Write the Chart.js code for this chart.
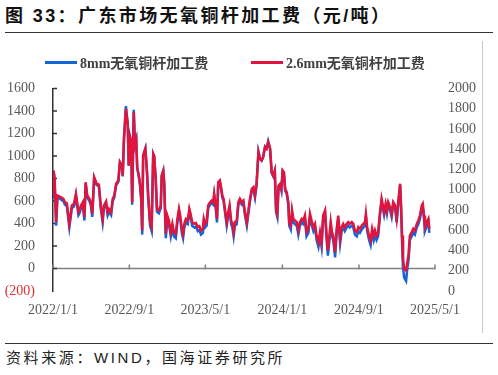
<!DOCTYPE html>
<html lang="zh">
<head>
<meta charset="utf-8">
<title>广东市场无氧铜杆加工费</title>
<script src="https://cdn.jsdelivr.net/npm/chart.js@4.4.1/dist/chart.umd.min.js"></script>
<style>
  html, body { margin: 0; padding: 0; background: #fff; }
  body { width: 498px; height: 375px; position: relative; overflow: hidden;
         font-family: "Liberation Sans", "Noto Sans CJK SC", sans-serif; }
  .title { position: absolute; left: 5px; top: 5px; line-height: 22px; font-size: 18px;
           font-weight: bold; letter-spacing: 2.4px; color: #111; white-space: nowrap; }
  .rule { position: absolute; left: 5px; width: 488px; height: 0; border-top: 1.5px solid #333; }
  .frame { position: absolute; left: 482px; top: 41px; width: 0; height: 292px; border-left: 1px solid #c8c8c8; }
  .legend span { position: absolute; top: 54px; height: 16px; line-height: 16px; display: flex; align-items: center;
                 font: bold 14px "Liberation Serif", "Noto Sans CJK SC", serif; color: #404040; white-space: nowrap; }
  .legend i { display: inline-block; width: 32px; height: 3px; margin-right: 3px; }
  #wrap { position: absolute; left: 0; top: 62px; width: 482px; height: 273px; }
  .source { position: absolute; left: 6px; top: 348px; line-height: 20px; font-size: 15px;
            letter-spacing: 2.6px; color: #222; white-space: nowrap; }
</style>
</head>
<body>
<div class="title">图 33：广东市场无氧铜杆加工费（元/吨）</div>
<div class="rule" style="top:32px"></div>
<div class="frame"></div>
<div id="wrap"><canvas id="chart"></canvas></div>
<div class="legend">
  <span style="left:45px"><i style="background:#1565d8"></i>8mm无氧铜杆加工费</span>
  <span style="left:251px"><i style="background:#e0143c"></i>2.6mm无氧铜杆加工费</span>
</div>
<div class="rule" style="top:343px"></div>
<div class="source">资料来源：WIND，国海证券研究所</div>

<script>
// days counted from 2022/1/1
const dayOffsets = [
  0, 2, 5, 10, 14, 22, 33, 38, 44, 52, 60, 67,
  73, 81, 84, 89, 95, 100, 104, 109, 116, 120, 125, 131,
  139, 146, 152, 158, 162, 169, 174, 178, 185, 190, 195, 201,
  208, 213, 219, 222, 226, 232, 238, 241, 245, 249, 252, 257,
  261, 265, 268, 273, 277, 281, 284, 287, 294, 299, 303, 309,
  314, 319, 322, 327, 331, 337, 343, 346, 351, 354, 359, 364,
  369, 375, 380, 385, 391, 396, 401, 405, 410, 414, 418, 423,
  429, 434, 438, 443, 450, 455, 461, 466, 471, 477, 480, 484,
  489, 494, 500, 505, 510, 513, 518, 522, 526, 531, 535, 539,
  543, 548, 553, 558, 562, 567, 571, 575, 579, 585, 590, 595,
  601, 606, 611, 617, 622, 627, 633, 638, 643, 648, 654, 659,
  664, 669, 675, 680, 685, 691, 696, 701, 706, 710, 714, 718,
  723, 727, 731, 735, 739, 744, 749, 752, 757, 761, 765, 770,
  776, 781, 786, 792, 797, 802, 807, 813, 818, 823, 829, 834,
  839, 845, 850, 855, 860, 866, 871, 875, 880, 884, 888, 892,
  898, 903, 908, 914, 919, 924, 929, 935, 940, 945, 951, 956,
  961, 967, 972, 977, 983, 988, 993, 996, 1000, 1006, 1011, 1016,
  1021, 1025, 1030, 1035, 1041, 1046, 1051, 1054, 1059, 1063, 1067, 1073,
  1078, 1083, 1089, 1094, 1099, 1105, 1108, 1111, 1114, 1118, 1124, 1128,
  1132, 1136, 1142, 1147, 1152, 1158, 1163, 1168, 1174, 1177, 1181, 1184,
  1190, 1195, 1198
];

// 8mm, left axis
const fee8mm = [
  630, 864, 789, 380, 630, 620, 598, 567, 556, 364, 535, 552,
  646, 474, 489, 535, 567, 426, 754, 630, 598, 567, 458, 801,
  740, 731, 535, 410, 535, 573, 474, 504, 474, 598, 630, 740,
  770, 942, 912, 818, 1162, 1443, 1286, 912, 1177, 1130, 567, 1411,
  1098, 1145, 896, 818, 740, 598, 301, 1004, 1067, 864, 630, 380,
  332, 1020, 1000, 785, 504, 489, 535, 818, 864, 754, 269, 441,
  395, 286, 364, 286, 269, 410, 504, 441, 317, 269, 364, 410,
  395, 504, 458, 380, 364, 372, 332, 341, 301, 317, 410, 364,
  380, 535, 567, 582, 567, 646, 535, 410, 754, 770, 707, 630,
  598, 489, 380, 474, 535, 395, 364, 286, 380, 395, 567, 598,
  567, 582, 474, 380, 489, 598, 692, 707, 630, 740, 1036, 973,
  958, 990, 1083, 1067, 1130, 1067, 848, 818, 864, 504, 458, 724,
  740, 692, 864, 848, 692, 661, 567, 380, 347, 489, 410, 395,
  380, 301, 380, 410, 395, 441, 286, 317, 458, 395, 332, 364,
  253, 192, 286, 192, 441, 489, 253, 114, 253, 380, 286, 253,
  98, 317, 441, 223, 332, 364, 332, 364, 380, 364, 380, 364,
  301, 286, 332, 317, 347, 364, 380, 458, 332, 253, 208, 317,
  253, 301, 253, 286, 474, 598, 519, 474, 552, 489, 567, 519,
  458, 567, 535, 410, 567, 740, 535, 253, 10, -80, -110, 3,
  81, 253, 286, 317, 301, 364, 395, 441, 535, 552, 441, 332,
  380, 410, 317
];

// 2.6mm, right axis
const fee26mm = [
  944, 1190, 1111, 680, 943, 933, 910, 877, 866, 663, 844, 861,
  960, 779, 795, 844, 877, 729, 1074, 943, 910, 877, 762, 1124,
  1059, 1050, 844, 712, 844, 884, 779, 811, 779, 910, 943, 1059,
  1091, 1272, 1240, 1141, 1503, 1799, 1634, 1240, 1519, 1470, 877, 1766,
  1436, 1486, 1223, 1141, 1059, 910, 597, 1337, 1404, 1190, 943, 680,
  630, 1354, 1333, 1107, 811, 795, 844, 1141, 1190, 1074, 564, 745,
  696, 581, 663, 581, 564, 712, 811, 745, 614, 564, 663, 712,
  696, 811, 762, 680, 663, 672, 630, 639, 597, 614, 712, 663,
  680, 844, 877, 893, 877, 960, 844, 712, 1074, 1091, 1025, 943,
  910, 795, 680, 779, 844, 696, 663, 581, 680, 696, 877, 910,
  877, 893, 779, 680, 795, 910, 1009, 1025, 943, 1059, 1371, 1305,
  1289, 1322, 1420, 1404, 1470, 1404, 1173, 1141, 1190, 811, 762, 1042,
  1059, 1009, 1190, 1173, 1009, 976, 877, 680, 646, 795, 712, 696,
  680, 597, 680, 712, 696, 745, 581, 614, 762, 696, 630, 663,
  547, 482, 581, 482, 745, 795, 547, 400, 547, 680, 581, 547,
  383, 614, 745, 515, 630, 663, 630, 663, 680, 663, 680, 663,
  597, 581, 630, 614, 646, 663, 680, 762, 630, 547, 499, 614,
  547, 597, 547, 581, 779, 910, 827, 779, 861, 795, 877, 827,
  762, 877, 844, 712, 877, 1059, 844, 547, 317, 219, 202, 284,
  366, 547, 581, 614, 597, 663, 696, 745, 844, 861, 745, 630,
  680, 712, 614
];

const xTickDays = [0, 243, 485, 730, 974, 1216];
const xTickLabels = ['2022/1/1', '2022/9/1', '2023/5/1', '2024/1/1', '2024/9/1', '2025/5/1'];

const tickFont = { family: '"Liberation Serif", "Times New Roman", serif', size: 14 };
const tickColor = '#595959';

// zero line, small date marks and inward ticks on the left axis
const axisMarks = {
  id: 'axisMarks',
  beforeDatasetsDraw(chart) {
    const { ctx, chartArea, scales } = chart;
    const x = scales.x, y = scales.y;
    const zeroY = y.getPixelForValue(0);
    ctx.save();
    ctx.lineWidth = 1.5;
    ctx.strokeStyle = '#808080';
    ctx.beginPath();
    ctx.moveTo(chartArea.left, zeroY);
    ctx.lineTo(chartArea.right, zeroY);
    xTickDays.forEach(d => {
      const px = x.getPixelForValue(d);
      ctx.moveTo(px, zeroY - 4);
      ctx.lineTo(px, zeroY + 1);
    });
    ctx.stroke();

    ctx.strokeStyle = '#333';
    ctx.beginPath();
    y.ticks.forEach(t => {
      if (t.value <= y.min) return;
      const py = y.getPixelForValue(t.value);
      ctx.moveTo(chartArea.left, py);
      ctx.lineTo(chartArea.left + 4, py);
    });
    ctx.stroke();
    ctx.restore();
  }
};

const toPoints = values => dayOffsets.map((d, i) => ({ x: d, y: values[i] }));

new Chart(document.getElementById('chart'), {
  type: 'line',
  data: {
    datasets: [
      {
        label: '2.6mm无氧铜杆加工费',
        data: toPoints(fee26mm),
        yAxisID: 'y2',
        borderColor: '#e0143c',
        backgroundColor: '#e0143c',
        borderWidth: 2.5,
        pointRadius: 0
      },
      {
        label: '8mm无氧铜杆加工费',
        data: toPoints(fee8mm),
        yAxisID: 'y',
        borderColor: '#1565d8',
        backgroundColor: '#1565d8',
        borderWidth: 2.5,
        pointRadius: 0
      }
    ]
  },
  options: {
    responsive: true,
    maintainAspectRatio: false,
    animation: false,
    layout: { padding: { top: 2, bottom: 0, left: 0, right: 0 } },
    plugins: {
      legend: { display: false },
      tooltip: { enabled: false }
    },
    scales: {
      x: {
        type: 'linear',
        min: 0,
        max: 1216,
        grid: { display: false, drawTicks: false },
        border: { display: false },
        afterBuildTicks: scale => { scale.ticks = xTickDays.map(v => ({ value: v })); },
        afterFit: scale => { scale.height = 44; },
        ticks: {
          autoSkip: false,
          maxRotation: 0,
          padding: 11,
          font: tickFont,
          color: tickColor,
          callback: v => xTickLabels[xTickDays.indexOf(v)]
        }
      },
      y: {
        position: 'left',
        min: -200,
        max: 1600,
        grid: { display: false, drawTicks: false },
        border: { display: true, color: '#333', width: 1.5 },
        afterFit: scale => { scale.width = 53; },
        ticks: {
          stepSize: 200,
          autoSkip: false,
          padding: 18,
          font: tickFont,
          color: ctx => (ctx.tick.value < 0 ? '#e03030' : tickColor),
          callback: v => (v < 0 ? '(' + (-v) + ')' : String(v))
        }
      },
      y2: {
        position: 'right',
        min: 0,
        max: 2000,
        grid: { display: false, drawTicks: false },
        border: { display: false },
        afterFit: scale => { scale.width = 47; },
        ticks: {
          stepSize: 200,
          autoSkip: false,
          padding: 13,
          font: tickFont,
          color: tickColor,
          callback: v => String(v)
        }
      }
    }
  },
  plugins: [axisMarks]
});
</script>
</body>
</html>
